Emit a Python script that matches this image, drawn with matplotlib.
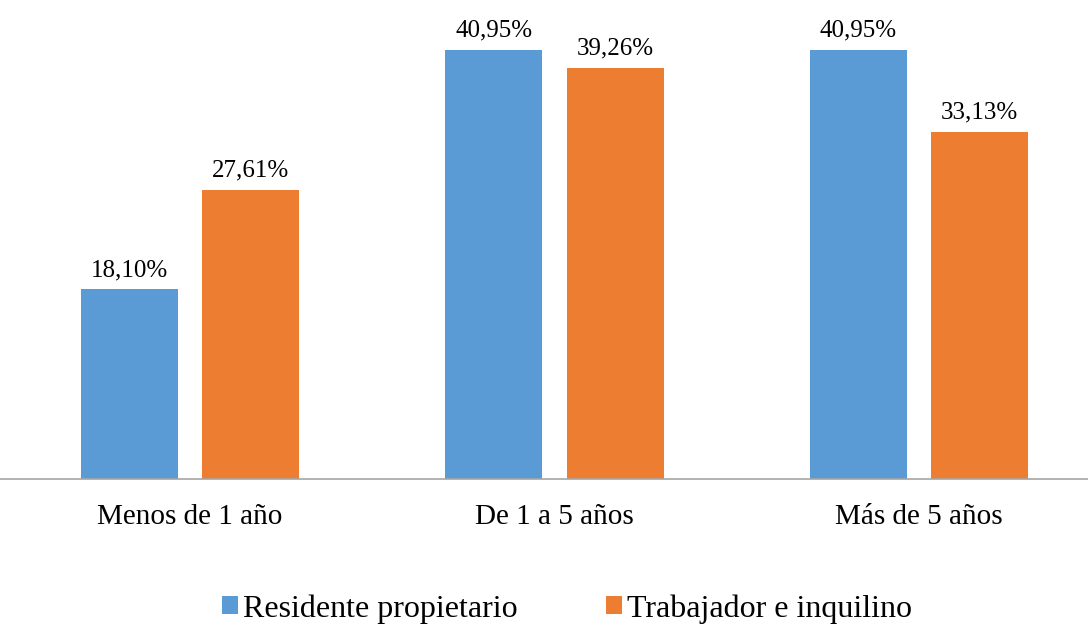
import matplotlib.pyplot as plt
import numpy as np
from matplotlib.patches import Patch

plt.rcParams['font.family'] = ['Liberation Serif', 'DejaVu Serif']

categorias = ["Menos de 1 año", "De 1 a 5 años", "Más de 5 años"]
series = ["Residente propietario", "Trabajador e inquilino"]
residente = [18.10, 40.95, 40.95]
trabajador = [27.61, 39.26, 33.13]

colores = ["#5B9BD5", "#ED7D31"]

fig = plt.figure(figsize=(10.88, 6.25), dpi=100)
ax = fig.add_axes([0, 1 - 479 / 625, 1, 479 / 625])

x = np.arange(len(categorias))
ancho = 0.266
desp = 0.1667

for valores, color, signo in zip([residente, trabajador], colores, [-1, 1]):
    barras = ax.bar(x + signo * desp, valores, width=ancho, color=color)
    for b, v in zip(barras, valores):
        ax.annotate(f"{v:.2f}%".replace(".", ","),
                    (b.get_x() + b.get_width() / 2, v),
                    xytext=(0, 6), textcoords="offset points",
                    ha="center", va="bottom", fontsize=18)

ax.set_xlim(-0.521, 2.464)
ax.set_ylim(0, 45.7)
ax.set_xticks(x)
ax.set_xticklabels(categorias, fontsize=21)
ax.tick_params(axis="x", length=0, pad=18)
ax.set_yticks([])
for lado in ["top", "left", "right"]:
    ax.spines[lado].set_visible(False)
ax.spines["bottom"].set_color("#A6A6A6")
ax.spines["bottom"].set_linewidth(1.2)

handles = [Patch(facecolor=c) for c in colores]
fig.legend(handles, series, loc="center", bbox_to_anchor=(0.521, 0.026),
           ncol=2, frameon=False, fontsize=23, handlelength=0.5,
           handleheight=0.5, handletextpad=0.16, columnspacing=2.75)

fig.savefig("out.png", dpi=100)
